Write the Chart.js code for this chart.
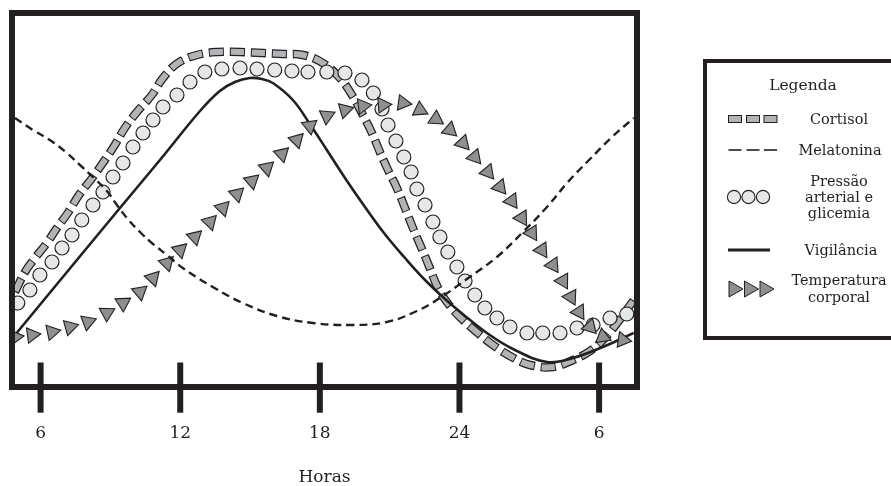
<!DOCTYPE html>
<html><head><meta charset="utf-8">
<script src="https://cdn.jsdelivr.net/npm/chart.js@4.4.0/dist/chart.umd.min.js"></script>
<style>
html,body{margin:0;padding:0;background:#fff;overflow:hidden;}
#wrap{position:relative;width:891px;height:486px;overflow:hidden;}
#c{position:absolute;left:0;top:0;}
#lbox{position:absolute;left:703px;top:59px;width:220px;height:281px;border:4px solid #231f20;box-sizing:border-box;}
.lg{position:absolute;font-family:'DejaVu Serif',serif;color:#231f20;text-align:center;white-space:nowrap;}
.sym{position:absolute;left:725px;width:54px;height:20px;}
</style></head><body>
<div id="wrap">
<canvas id="c" width="891" height="486"></canvas>
<div id="lbox"></div>
<div class="lg" style="left:743px;width:120px;top:75px;font-size:15.5px;line-height:20px;">Legenda</div>
<svg class="sym" style="top:109px" viewBox="0 0 54 20"><rect x="3.5" y="6.5" width="13" height="7" fill="#b1b3b6" stroke="#231f20" stroke-width="1"/><rect x="21.5" y="6.5" width="13" height="7" fill="#b1b3b6" stroke="#231f20" stroke-width="1"/><rect x="39" y="6.5" width="13" height="7" fill="#b1b3b6" stroke="#231f20" stroke-width="1"/></svg>
<div class="lg" style="left:779px;width:120px;top:111px;font-size:14.5px;line-height:16px;">Cortisol</div>
<svg class="sym" style="top:140px" viewBox="0 0 54 20"><line x1="3.5" y1="10" x2="16.5" y2="10" stroke="#231f20" stroke-width="1.6"/><line x1="21.5" y1="10" x2="34.5" y2="10" stroke="#231f20" stroke-width="1.6"/><line x1="39" y1="10" x2="52" y2="10" stroke="#231f20" stroke-width="1.6"/></svg>
<div class="lg" style="left:780px;width:120px;top:142px;font-size:14.5px;line-height:16px;">Melatonina</div>
<svg class="sym" style="top:187px" viewBox="0 0 54 20"><circle cx="9" cy="10" r="6.6" fill="#e6e7e8" stroke="#231f20" stroke-width="1.1"/><circle cx="23.5" cy="10" r="6.6" fill="#e6e7e8" stroke="#231f20" stroke-width="1.1"/><circle cx="38" cy="10" r="6.6" fill="#e6e7e8" stroke="#231f20" stroke-width="1.1"/></svg>
<div class="lg" style="left:779px;width:120px;top:173px;font-size:14.5px;line-height:16px;">Pressão<br>arterial e<br>glicemia</div>
<svg class="sym" style="top:240px" viewBox="0 0 54 20"><line x1="3" y1="10" x2="45" y2="10" stroke="#231f20" stroke-width="2.8"/></svg>
<div class="lg" style="left:781px;width:120px;top:242px;font-size:14.5px;line-height:16px;">Vigilância</div>
<svg class="sym" style="top:279px" viewBox="0 0 54 20"><polygon points="4,2 18,10 4,18" fill="#8d8f91" stroke="#231f20" stroke-width="1"/><polygon points="19.5,2 33.5,10 19.5,18" fill="#8d8f91" stroke="#231f20" stroke-width="1"/><polygon points="35,2 49,10 35,18" fill="#8d8f91" stroke="#231f20" stroke-width="1"/></svg>
<div class="lg" style="left:779px;width:120px;top:272px;font-size:14.5px;line-height:17px;">Temperatura<br>corporal</div>
</div>
<script>
// ---- data (x = hours, continuous: 30 = 6h next day; y = relative level) ----
const tickHours = [6, 12, 18, 24, 30];
const tickLabels = ['6', '12', '18', '24', '6'];

const cortisolHours = [4.90,5.33,5.76,6.27,6.70,7.17,7.65,8.25,8.76,9.19,9.62,10.14,10.78,11.26,11.90,12.72,13.62,14.57,15.55,16.41,17.27,18.13,18.86,19.38,19.85,20.24,20.58,20.93,21.31,21.66,22.00,22.35,22.69,23.08,23.59,24.15,24.79,25.44,26.25,27.03,28.02,28.88,29.61,30.25,30.81,31.49];
const cortisolLevel = [92,112,126,141,156,171,189,207,224,239,256,272,289,306,321,329,332,332,331,330,329,321,306,289,269,251,232,214,196,176,156,137,118,96,78,64,51,39,27,19,17,24,33,46,62,84];

const melatoninHours = [4.90,5.67,6.40,7.13,7.69,8.25,8.85,9.28,9.71,10.27,10.83,11.43,12.11,13.40,14.69,16.15,17.70,19.42,20.88,22.17,23.16,24.32,25.61,26.73,27.76,28.66,29.61,30.51,31.49];
const melatoninLevel = [266,254,244,231,219,207,193,179,166,152,140,129,116,97,81,68,61,59,62,73,86,105,127,152,177,202,225,246,266];

const pressureHours = [5.02,5.54,5.97,6.49,6.92,7.35,7.77,8.25,8.68,9.11,9.54,9.97,10.40,10.83,11.26,11.86,12.42,13.06,13.79,14.57,15.30,16.06,16.80,17.49,18.30,19.08,19.81,20.30,20.67,20.93,21.27,21.61,21.92,22.17,22.52,22.86,23.16,23.50,23.89,24.24,24.66,25.09,25.61,26.17,26.90,27.58,28.32,29.05,29.74,30.47,31.19];
const pressureLevel = [81,94,109,122,136,149,164,179,192,207,221,237,251,264,277,289,302,312,315,316,315,314,313,312,312,311,304,291,275,259,243,227,212,195,179,162,147,132,117,103,89,76,66,57,51,51,51,56,59,66,70];

const alertnessHours = [4.90,7.56,9.41,11.13,12.85,13.70,14.35,14.99,15.51,15.98,16.84,17.57,18.30,19.08,19.94,20.79,21.66,22.52,23.38,24.24,25.18,26.30,27.76,28.88,30.16,31.49];
const alertnessLevel = [49,124,176,224,273,293,302,306,305,301,284,260,234,206,177,150,126,104,85,68,51,35,22,26,37,51];

const temperatureHours = [4.90,5.63,6.49,7.26,8.03,8.85,9.54,10.27,10.83,11.43,11.99,12.63,13.28,13.83,14.44,15.08,15.72,16.37,17.01,17.57,18.30,19.08,19.85,20.71,21.57,22.30,22.99,23.59,24.15,24.66,25.22,25.74,26.25,26.68,27.11,27.54,28.02,28.45,28.79,29.14,29.61,30.16,31.02];
const temperatureLevel = [47,49,52,57,62,71,81,92,106,121,134,147,162,176,190,203,216,230,244,258,268,274,278,279,281,274,265,254,241,227,212,197,183,166,151,134,119,103,87,72,57,47,44];

const INK = '#231f20';
const toPts = (xs, ys) => xs.map((x, i) => ({x, y: ys[i]}));

Chart.defaults.font.family = "'DejaVu Serif', serif";
Chart.defaults.color = INK;

const framePlugin = {
  id: 'frame',
  afterDatasetsDraw(chart) {
    const {ctx, chartArea: a, scales: {x}} = chart;
    ctx.save();
    ctx.strokeStyle = INK;
    ctx.lineWidth = 6;
    ctx.lineJoin = 'miter';
    ctx.strokeRect(a.left - 3, a.top - 3, a.right - a.left + 6, a.bottom - a.top + 6);
    ctx.lineCap = 'butt';
    x.ticks.forEach(t => {
      const px = x.getPixelForValue(t.value);
      ctx.beginPath();
      ctx.moveTo(px, a.bottom - 21.5);
      ctx.lineTo(px, a.bottom + 28.7);
      ctx.stroke();
    });
    ctx.restore();
  }
};

function alongRotation(ctx) {
  const d = ctx.dataset && ctx.dataset.data;
  const i = ctx.dataIndex;
  if (!d || i === undefined) return 90;
  const a = d[Math.max(0, i - 1)], b = d[Math.min(d.length - 1, i + 1)];
  const xs = ctx.chart.scales.x, ys = ctx.chart.scales.y;
  const dx = xs.getPixelForValue(b.x) - xs.getPixelForValue(a.x);
  const dy = ys.getPixelForValue(b.y) - ys.getPixelForValue(a.y);
  return Math.atan2(dy, dx) * 180 / Math.PI + 90;
}

new Chart(document.getElementById('c'), {
  type: 'line',
  data: {
    datasets: [
      { label: 'Melatonina', data: toPts(melatoninHours, melatoninLevel), order: 1,
        borderColor: INK, borderWidth: 2.4, borderDash: [8, 5], pointRadius: 0,
        tension: 0.4, fill: false, clip: 0 },
      { label: 'Temperatura corporal', data: toPts(temperatureHours, temperatureLevel), order: 2,
        showLine: false, pointStyle: 'triangle', pointRadius: 9, pointBackgroundColor: '#8d8f91',
        pointBorderColor: INK, pointBorderWidth: 1.1, pointRotation: alongRotation, clip: 0 },
      { label: 'Vigilância', data: toPts(alertnessHours, alertnessLevel), order: 3,
        borderColor: INK, borderWidth: 2.6, pointRadius: 0,
        tension: 0.4, fill: false, clip: 0 },
      { label: 'Pressão arterial e glicemia', data: toPts(pressureHours, pressureLevel), order: 4,
        showLine: false, pointStyle: 'circle', pointRadius: 7, pointBackgroundColor: '#e6e7e8',
        pointBorderColor: INK, pointBorderWidth: 1.2, clip: 0 },
      { label: 'Cortisol', data: toPts(cortisolHours, cortisolLevel), order: 5,
        borderColor: '#b1b3b6', borderWidth: 6, borderDash: [13, 8], borderDashOffset: -1,
        pointRadius: 0, tension: 0.4, fill: false, clip: 0 },
      { label: 'Cortisol (contorno)', data: toPts(cortisolHours, cortisolLevel), order: 6,
        borderColor: INK, borderWidth: 8.5, borderDash: [15, 6],
        pointRadius: 0, tension: 0.4, fill: false, clip: 0 }
    ]
  },
  options: {
    responsive: false,
    animation: false,
    events: [],
    layout: { padding: { left: 15, right: 257, top: 16, bottom: 0 } },
    plugins: { legend: { display: false }, tooltip: { enabled: false } },
    scales: {
      x: {
        type: 'linear', position: 'bottom', min: 4.9, max: 31.5,
        border: { display: false },
        grid: { display: false, drawTicks: false },
        afterBuildTicks: s => { s.ticks = tickHours.map(v => ({ value: v })); },
        afterFit: s => { s.height = 102; s.paddingLeft = 0; s.paddingRight = 0; },
        ticks: {
          autoSkip: false, maxRotation: 0, minRotation: 0, padding: 39, color: INK,
          font: { family: "'DejaVu Serif', serif", size: 17 },
          callback: v => { const i = tickHours.indexOf(v); return i >= 0 ? tickLabels[i] : ''; }
        },
        title: { display: true, text: 'Horas', color: INK,
          font: { family: "'DejaVu Serif', serif", size: 17 }, padding: { top: 0, bottom: -2 } }
      },
      y: { display: false, min: 0, max: 368 }
    }
  },
  plugins: [framePlugin]
});
</script>
</body></html>
